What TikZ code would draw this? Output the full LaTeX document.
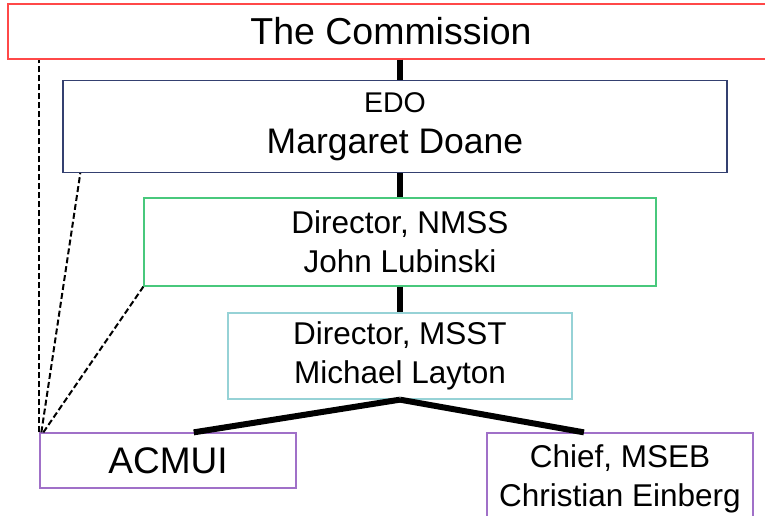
\documentclass[tikz,border=0pt]{standalone}
\usepackage{fontspec}
\setmainfont{Liberation Sans}
\usetikzlibrary{positioning,calc}

\definecolor{commred}{RGB}{255,72,72}
\definecolor{edoblue}{RGB}{52,64,112}
\definecolor{nmssgreen}{RGB}{72,200,124}
\definecolor{msstteal}{RGB}{150,210,214}
\definecolor{acpurple}{RGB}{160,112,200}

\begin{document}
\begin{tikzpicture}[x=1pt,y=-1pt,
    base box/.style={rectangle,draw,fill=white,line width=1.3pt,inner sep=0pt,align=center,
        font=\fontsize{31.5}{39}\selectfont},
    tree line/.style={line width=6pt},
    dash line/.style={line width=2pt,dash pattern=on 6pt off 3pt}]

\useasboundingbox (0,0) rectangle (765,516);

% boxes
\node[base box,draw=commred,minimum width=766pt,minimum height=55pt,
    font=\fontsize{37.5}{44}\selectfont]                      (comm)  at (391,31.5) {The Commission};
\node[base box,draw=edoblue,minimum width=664pt,minimum height=92pt,
    font=\fontsize{35.5}{41}\selectfont]                      (edo)   at (395,126.5) {{\fontsize{28.5}{41}\selectfont EDO}\\Margaret Doane};
\node[base box,draw=nmssgreen,minimum width=512pt,minimum height=88pt] (nmss)  at (400,242) {Director, NMSS\\John Lubinski};
\node[base box,draw=msstteal,minimum width=344pt,minimum height=86pt]  (msst)  at (400,356) {Director, MSST\\Michael Layton};
\node[base box,draw=acpurple,minimum width=256pt,minimum height=55pt,
    font=\fontsize{37}{44}\selectfont]                        (acmui) at (168,460.5) {ACMUI};
\node[base box,draw=acpurple,minimum width=266pt,minimum height=92pt] (chief) at (620,479) {Chief, MSEB\\Christian Einberg};

% line of authority
\draw[tree line] (nmss.north |- comm.south) -- (nmss.north |- edo.north);
\draw[tree line] (nmss.north |- edo.south) -- (nmss.north);
\draw[tree line] (nmss.south) -- (msst.north);
\draw[tree line] (msst.south) -- ($(acmui.north west)!0.6!(acmui.north east)$);
\draw[tree line] (msst.south) -- ($(chief.north west)!0.365!(chief.north east)$);

% advisory links
\draw[dash line] (acmui.north west) -- (acmui.north west |- comm.south);
\draw[dash line] ($(acmui.north west)+(2,0)$) -- ($(edo.south west)!0.027!(edo.south east)$);
\draw[dash line] ($(acmui.north west)+(4,0)$) -- (nmss.south west);
\end{tikzpicture}
\end{document}
